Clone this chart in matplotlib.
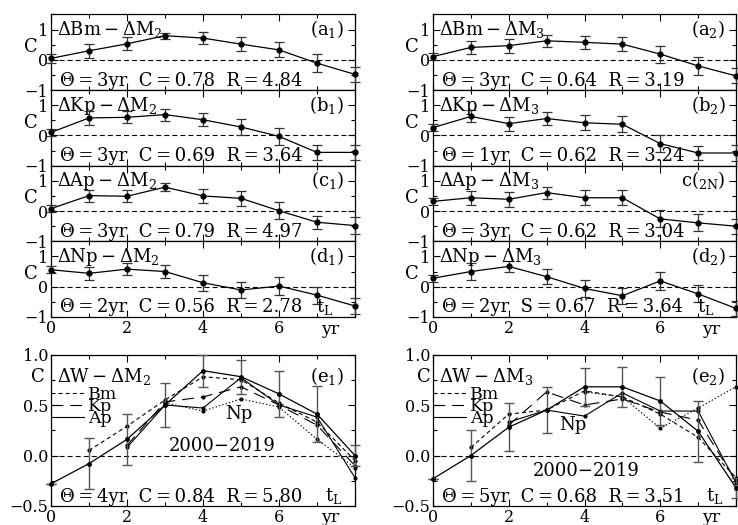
import matplotlib.pyplot as plt
from matplotlib.lines import Line2D
from matplotlib.ticker import FixedLocator

plt.rcParams['font.family'] = ['DejaVu Serif']
plt.rcParams['mathtext.fontset'] = 'dejavuserif'
plt.rcParams['lines.scale_dashes'] = False

yrs = [0, 1, 2, 3, 4, 5, 6, 7, 8]

# lag correlations against Delta M2 (left) and Delta M3 (right)
bm_m2 = [0.05, 0.30, 0.53, 0.80, 0.72, 0.52, 0.33, -0.11, -0.48]
bm_m2_err = [0.15, 0.24, 0.22, 0.10, 0.20, 0.23, 0.25, 0.30, 0.25]
kp_m2 = [0.10, 0.58, 0.60, 0.69, 0.52, 0.28, -0.03, -0.56, -0.56]
kp_m2_err = [0.12, 0.22, 0.20, 0.20, 0.22, 0.27, 0.28, 0.24, 0.26]
ap_m2 = [0.08, 0.51, 0.49, 0.79, 0.50, 0.42, 0.01, -0.37, -0.48]
ap_m2_err = [0.12, 0.20, 0.20, 0.13, 0.22, 0.24, 0.28, 0.22, 0.28]
np_m2 = [0.56, 0.44, 0.58, 0.50, 0.13, -0.11, 0.02, -0.28, -0.64]
np_m2_err = [0.12, 0.22, 0.20, 0.22, 0.27, 0.27, 0.30, 0.28, 0.25]

bm_m3 = [0.11, 0.41, 0.47, 0.63, 0.58, 0.52, 0.19, -0.20, -0.53]
bm_m3_err = [0.12, 0.23, 0.23, 0.20, 0.22, 0.24, 0.28, 0.29, 0.25]
kp_m3 = [0.26, 0.63, 0.39, 0.56, 0.42, 0.37, -0.27, -0.58, -0.58]
kp_m3_err = [0.12, 0.20, 0.23, 0.23, 0.25, 0.26, 0.28, 0.23, 0.25]
ap_m3 = [0.32, 0.44, 0.39, 0.61, 0.44, 0.44, -0.26, -0.39, -0.50]
ap_m3_err = [0.12, 0.23, 0.24, 0.20, 0.25, 0.25, 0.28, 0.28, 0.25]
np_m3 = [0.28, 0.50, 0.67, 0.33, -0.06, -0.30, 0.19, -0.24, -0.72]
np_m3_err = [0.12, 0.28, 0.18, 0.25, 0.28, 0.27, 0.30, 0.28, 0.25]

top_names = [r'$\Delta\mathrm{Bm}-\Delta\mathrm{M}_2$', r'$\Delta\mathrm{Kp}-\Delta\mathrm{M}_2$',
             r'$\Delta\mathrm{Ap}-\Delta\mathrm{M}_2$', r'$\Delta\mathrm{Np}-\Delta\mathrm{M}_2$',
             r'$\Delta\mathrm{Bm}-\Delta\mathrm{M}_3$', r'$\Delta\mathrm{Kp}-\Delta\mathrm{M}_3$',
             r'$\Delta\mathrm{Ap}-\Delta\mathrm{M}_3$', r'$\Delta\mathrm{Np}-\Delta\mathrm{M}_3$']
top_tags = [r'(a$_1$)', r'(b$_1$)', r'(c$_1$)', r'(d$_1$)',
            r'(a$_2$)', r'(b$_2$)', r'c$(_{\mathrm{2N}})$', r'(d$_2$)']
top_stats = ['Θ\u2009=\u20093yr  C\u2009=\u20090.78  R\u2009=\u20094.84',
             'Θ\u2009=\u20093yr  C\u2009=\u20090.69  R\u2009=\u20093.64',
             'Θ\u2009=\u20093yr  C\u2009=\u20090.79  R\u2009=\u20094.97',
             'Θ\u2009=\u20092yr  C\u2009=\u20090.56  R\u2009=\u20092.78',
             'Θ\u2009=\u20093yr  C\u2009=\u20090.64  R\u2009=\u20093.19',
             'Θ\u2009=\u20091yr  C\u2009=\u20090.62  R\u2009=\u20093.24',
             'Θ\u2009=\u20093yr  C\u2009=\u20090.62  R\u2009=\u20093.04',
             'Θ\u2009=\u20092yr  S\u2009=\u20090.67  R\u2009=\u20093.64']

# Delta W panels: mean curve with error bars plus the four indices
w_m2 = [-0.28, -0.08, 0.16, 0.50, 0.84, 0.78, 0.61, 0.41, 0.00]
w_m2_err = [0.0, 0.25, 0.25, 0.22, 0.16, 0.17, 0.23, 0.28, 0.10]
w_m2_bm = [0.05, 0.29, 0.55, 0.78, 0.75, 0.52, 0.33, -0.05]
w_m2_kp = [0.10, 0.53, 0.58, 0.68, 0.50, 0.30, -0.10]
w_m2_ap = [0.08, 0.50, 0.47, 0.77, 0.50, 0.38, -0.22]
w_m2_np = [0.52, 0.44, 0.56, 0.48, 0.16, -0.12]

w_m3 = [-0.23, 0.00, 0.28, 0.45, 0.68, 0.68, 0.54, 0.24, -0.32]
w_m3_err = [0.0, 0.25, 0.24, 0.23, 0.19, 0.20, 0.24, 0.30, 0.10]
w_m3_bm = [0.08, 0.41, 0.45, 0.64, 0.58, 0.41, 0.18, -0.22]
w_m3_kp = [0.30, 0.63, 0.50, 0.56, 0.43, 0.35, -0.25]
w_m3_ap = [0.33, 0.45, 0.39, 0.62, 0.44, 0.44, -0.27]
w_m3_np = [0.63, 0.58, 0.27, 0.47, 0.68]

W, H = 738, 525
ZERO_DASH = (0, (3.6, 2.2))
BM_DASH = (0, (2.9, 2.2))
KP_DASH = (0, (8.5, 5.0))
NP_DOT = (0, (1.0, 1.5))
FS = 13


def place(l, t, w, h):
    return fig.add_axes([l / W, 1 - (t + h) / H, w / W, h / H])


def style_axes(ax):
    ax.set_xlim(0, 8)
    ax.xaxis.set_major_locator(FixedLocator([0, 2, 4, 6, 8]))
    ax.xaxis.set_minor_locator(FixedLocator([1, 3, 5, 7]))
    ax.tick_params(which='both', direction='in', top=True, right=True,
                   labelsize=11.5, pad=2)
    ax.tick_params(which='major', length=5, width=0.8)
    ax.tick_params(which='minor', length=3, width=0.8)
    for s in ax.spines.values():
        s.set_linewidth(0.9)


def yr_axis(ax, ypos):
    ax.set_xticklabels(['0', '2', '4', '6', ''])
    ax.text(7.35, ypos, 'yr', transform=ax.get_xaxis_transform(),
            ha='center', va='top', fontsize=12.5)


def lag_panel(ax, y, err, name, tag, stats, bottom, c_x):
    style_axes(ax)
    ax.set_ylim(-1, 1.5)
    ax.set_yticks([-1, 0, 1])
    ax.set_yticklabels(['−1', '0', '1'])
    ax.yaxis.set_minor_locator(FixedLocator([-0.5, 0.5]))
    ax.axhline(0, color='k', lw=0.8, ls=ZERO_DASH)
    ax.errorbar(yrs, y, yerr=err, fmt='-o', color='k', ms=3.5, lw=0.9,
                ecolor='#333333', elinewidth=0.9, capsize=3.5, capthick=0.9,
                clip_on=False, zorder=3)
    ax.text(0.02, 0.73, name, transform=ax.transAxes, fontsize=FS,
            va='baseline')
    ax.text(0.965, 0.73, tag, transform=ax.transAxes, fontsize=FS,
            ha='right', va='baseline')
    ax.text(0.03, 0.06, stats, transform=ax.transAxes, fontsize=FS,
            va='baseline')
    ax.text(c_x, 0.57, 'C', transform=ax.transAxes, fontsize=FS,
            ha='center', va='center')
    if bottom:
        ax.text(7.2, 0.07, r't$_\mathrm{L}$', transform=ax.get_xaxis_transform(),
                fontsize=FS, va='baseline', ha='center')
        yr_axis(ax, -0.06)
    else:
        ax.set_xticklabels([])


def w_panel(ax, mean, err, bm, kp, ap, npv, name, tag, stats,
            period_xy, np_xy, c_x):
    style_axes(ax)
    ax.set_ylim(-0.5, 1.0)
    ax.set_yticks([-0.5, 0.0, 0.5, 1.0])
    ax.set_yticklabels(['−0.5', '0.0', '0.5', '1.0'])
    ax.yaxis.set_minor_locator(FixedLocator([-0.25, 0.25, 0.75]))
    ax.axhline(0, color='k', lw=0.8, ls=ZERO_DASH)
    ax.errorbar(yrs, mean, yerr=err, fmt='-o', color='k', ms=2.5, lw=0.9,
                ecolor='#555555', elinewidth=1.0, capsize=3.5, capthick=1.0,
                clip_on=False, zorder=3)
    kw = dict(color='k', lw=0.8, marker='o', ms=2, clip_on=False)
    ax.plot(yrs[9 - len(bm):], bm, ls=BM_DASH, **kw)
    ax.plot(yrs[9 - len(kp):], kp, ls=KP_DASH, **kw)
    ax.plot(yrs[9 - len(ap):], ap, ls='-', **kw)
    ax.plot(yrs[9 - len(npv):], npv, ls=NP_DOT, **kw)
    handles = [Line2D([], [], color='k', lw=0.8, ls=BM_DASH),
               Line2D([], [], color='k', lw=0.8, ls=KP_DASH),
               Line2D([], [], color='k', lw=0.8, ls='-')]
    ax.legend(handles, ['Bm', 'Kp', 'Ap'], loc='upper left',
              bbox_to_anchor=(0.0, 0.79), frameon=False, fontsize=12.5,
              handlelength=1.9, handletextpad=0.25, labelspacing=-0.3,
              borderpad=0, borderaxespad=0)
    ax.text(0.02, 0.82, name, transform=ax.transAxes, fontsize=FS,
            va='baseline')
    ax.text(0.965, 0.82, tag, transform=ax.transAxes, fontsize=FS,
            ha='right', va='baseline')
    ax.text(0.03, 0.025, stats, transform=ax.transAxes, fontsize=FS,
            va='baseline')
    ax.text(period_xy[0], period_xy[1], '2000−2019', fontsize=FS,
            ha='center', va='baseline')
    ax.text(np_xy[0], np_xy[1], 'Np', fontsize=FS, ha='center',
            va='center')
    ax.text(c_x, 0.85, 'C', transform=ax.transAxes, fontsize=FS,
            ha='center', va='center')
    ax.text(7.45, 0.03, r't$_\mathrm{L}$', transform=ax.get_xaxis_transform(),
            fontsize=FS, va='baseline', ha='center')
    yr_axis(ax, -0.02)


fig = plt.figure(figsize=(7.38, 5.25), dpi=100)

left_data = [(bm_m2, bm_m2_err), (kp_m2, kp_m2_err),
             (ap_m2, ap_m2_err), (np_m2, np_m2_err)]
right_data = [(bm_m3, bm_m3_err), (kp_m3, kp_m3_err),
              (ap_m3, ap_m3_err), (np_m3, np_m3_err)]

ph = 75.6
for i, (y, e) in enumerate(left_data):
    ax = place(51, 14.5 + i * ph, 304, ph)
    lag_panel(ax, y, e, top_names[i], top_tags[i], top_stats[i], i == 3, -0.066)
for i, (y, e) in enumerate(right_data):
    ax = place(433, 14.5 + i * ph, 303, ph)
    lag_panel(ax, y, e, top_names[4 + i], top_tags[4 + i], top_stats[4 + i],
              i == 3, -0.07)

ax = place(51, 354.5, 304, 151.5)
w_panel(ax, w_m2, w_m2_err, w_m2_bm, w_m2_kp, w_m2_ap, w_m2_np,
        r'$\Delta\mathrm{W}-\Delta\mathrm{M}_2$', r'(e$_1$)',
        'Θ\u2009=\u20094yr  C\u2009=\u20090.84  R\u2009=\u20095.80',
        (4.5, 0.04), (4.95, 0.41), -0.044)

ax = place(433, 354.5, 303, 151.5)
w_panel(ax, w_m3, w_m3_err, w_m3_bm, w_m3_kp, w_m3_ap, w_m3_np,
        r'$\Delta\mathrm{W}-\Delta\mathrm{M}_3$', r'(e$_2$)',
        'Θ\u2009=\u20095yr  C\u2009=\u20090.68  R\u2009=\u20093.51',
        (4.05, -0.2), (3.68, 0.3), -0.03)

fig.savefig('out.png', dpi=100)
